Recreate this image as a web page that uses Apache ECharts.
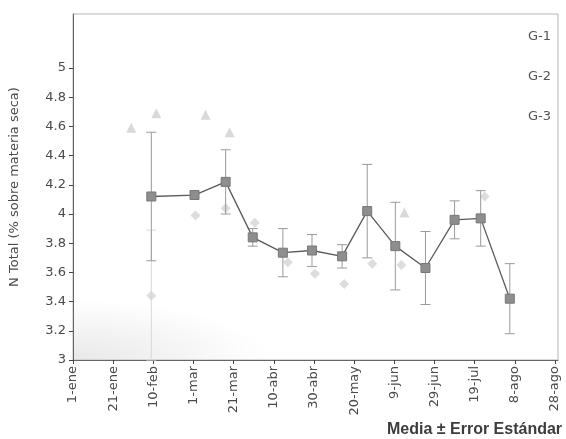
<!DOCTYPE html>
<html>
<head>
<meta charset="utf-8">
<script src="https://cdn.jsdelivr.net/npm/echarts@6/dist/echarts.min.js"></script>
<style>
  html, body { margin: 0; padding: 0; background: #fff; }
  #main { width: 566px; height: 439px; }
</style>
</head>
<body>
<div id="main"></div>
<script>
// x values are days counted from 1-ene (leap year)
const dateLabels = ['1-ene', '21-ene', '10-feb', '1-mar', '21-mar', '10-abr', '30-abr',
  '20-may', '9-jun', '29-jun', '19-jul', '8-ago', '28-ago'];
const yTicks = [3, 3.2, 3.4, 3.6, 3.8, 4, 4.2, 4.4, 4.6, 4.8, 5];

const g1Days = [39, 60.5, 76, 89.5, 104.5, 119, 134, 146.5, 160.5, 175.5, 190, 203, 217.5];
const g1Vals = [4.12, 4.13, 4.22, 3.84, 3.735, 3.75, 3.71, 4.02, 3.78, 3.63, 3.96, 3.97, 3.42];
const g1Err  = [0.44, 0, 0.22, 0.06, 0.165, 0.11, 0.08, 0.32, 0.30, 0.25, 0.13, 0.19, 0.24];

const g2Days = [39, 61, 76, 90.5, 107, 120.5, 135, 149, 163.5, 205];
const g2Vals = [3.44, 3.99, 4.04, 3.94, 3.67, 3.59, 3.52, 3.66, 3.65, 4.12];
const g2Err  = [0.45, 0, 0, 0, 0, 0, 0, 0, 0, 0];

const g3Days = [29, 41.5, 66, 78, 165];
const g3Vals = [4.59, 4.69, 4.68, 4.56, 4.01];

const zip = (xs, ys, es) => xs.map((x, i) => es ? [x, ys[i], es[i]] : [x, ys[i]]);

function errorBars(color, width) {
  return (params, api) => {
    const x = api.value(0), y = api.value(1), e = api.value(2);
    if (!e) return null;
    const top = api.coord([x, y + e]);
    const bot = api.coord([x, Math.max(3, y - e)]);
    const half = 5;
    const style = { stroke: color, lineWidth: width };
    return {
      type: 'group',
      children: [
        { type: 'line', shape: { x1: top[0], y1: top[1], x2: bot[0], y2: bot[1] }, style },
        { type: 'line', shape: { x1: top[0] - half, y1: top[1], x2: top[0] + half, y2: top[1] }, style },
        { type: 'line', shape: { x1: bot[0] - half, y1: bot[1], x2: bot[0] + half, y2: bot[1] }, style }
      ]
    };
  };
}

const chart = echarts.init(document.getElementById('main'));
const txt = '#4a4a4a';

chart.setOption({
  backgroundColor: '#fff',
  animation: false,
  textStyle: { fontFamily: 'DejaVu Sans' },
  grid: { left: 72.7, right: 8, top: 14, bottom: 79, show: true, borderColor: '#b5b5b5', borderWidth: 1 },
  legend: {
    orient: 'vertical',
    right: 10,
    top: 25,
    itemGap: 27,
    itemWidth: 14,
    itemHeight: 10,
    textStyle: { color: '#555', fontSize: 13, fontFamily: 'DejaVu Sans' },
    data: [
      { name: 'G-1', itemStyle: { opacity: 0 }, lineStyle: { opacity: 0 } },
      { name: 'G-2', itemStyle: { opacity: 0 } },
      { name: 'G-3', itemStyle: { opacity: 0 } }
    ]
  },
  xAxis: {
    type: 'value',
    min: 0,
    max: 241.5,
    interval: 20,
    splitLine: { show: false },
    axisLine: { lineStyle: { color: '#666', width: 1 } },
    axisTick: { show: true, length: 4, lineStyle: { color: '#444' }, customValues: dateLabels.map((_, i) => i * 20) },
    axisLabel: {
      rotate: 90,
      color: txt,
      fontSize: 13,
      margin: 6,
      customValues: dateLabels.map((_, i) => i * 20),
      formatter: v => dateLabels[Math.round(v / 20)] || ''
    }
  },
  yAxis: {
    type: 'value',
    min: 3,
    max: 5.37,
    name: 'N Total (% sobre materia seca)',
    nameLocation: 'middle',
    nameGap: 52,
    nameTextStyle: { color: txt, fontSize: 13 },
    splitLine: { show: false },
    axisLine: { show: true, lineStyle: { color: '#666', width: 1 } },
    axisTick: { show: true, length: 4, lineStyle: { color: '#444' }, customValues: yTicks },
    axisLabel: { color: txt, fontSize: 13, margin: 7, customValues: yTicks, formatter: v => String(+v.toFixed(1)) }
  },
  graphic: [
    {
      // faint scan shading in the lower-left corner of the plot
      type: 'rect',
      silent: true,
      z: -1,
      x: 73,
      y: 359.5,
      scaleX: 3.3,
      shape: { x: 0, y: -60, width: 80, height: 60 },
      style: {
        fill: {
          type: 'radial', x: 0, y: 1, r: 1,
          colorStops: [{ offset: 0, color: 'rgba(0,0,0,0.09)' }, { offset: 1, color: 'rgba(0,0,0,0)' }]
        }
      }
    },
    {
      type: 'text',
      left: 387,
      top: 422,
      style: { text: 'Media ± Error Estándar', fill: '#3c3c3c', font: 'bold 16px "Liberation Sans"' }
    }
  ],
  series: [
    {
      name: 'G-2 err', type: 'custom', renderItem: errorBars('#d8d8d8', 1),
      data: zip(g2Days, g2Vals, g2Err), z: 1
    },
    {
      name: 'G-2', type: 'scatter', symbol: 'diamond', symbolSize: 10,
      itemStyle: { color: '#d4d4d4' }, data: zip(g2Days, g2Vals), z: 2
    },
    {
      name: 'G-3', type: 'scatter', symbol: 'triangle', symbolSize: 10,
      itemStyle: { color: '#d0d0d0' }, data: zip(g3Days, g3Vals), z: 2
    },
    {
      name: 'G-1 err', type: 'custom', renderItem: errorBars('#9a9a9a', 1),
      data: zip(g1Days, g1Vals, g1Err), z: 3
    },
    {
      name: 'G-1', type: 'line', symbol: 'rect', symbolSize: 9,
      lineStyle: { color: '#5a5a5a', width: 1.3 },
      itemStyle: { color: '#8e8e8e', borderColor: '#777', borderWidth: 1 },
      data: zip(g1Days, g1Vals), z: 4
    }
  ]
});
</script>
</body>
</html>
